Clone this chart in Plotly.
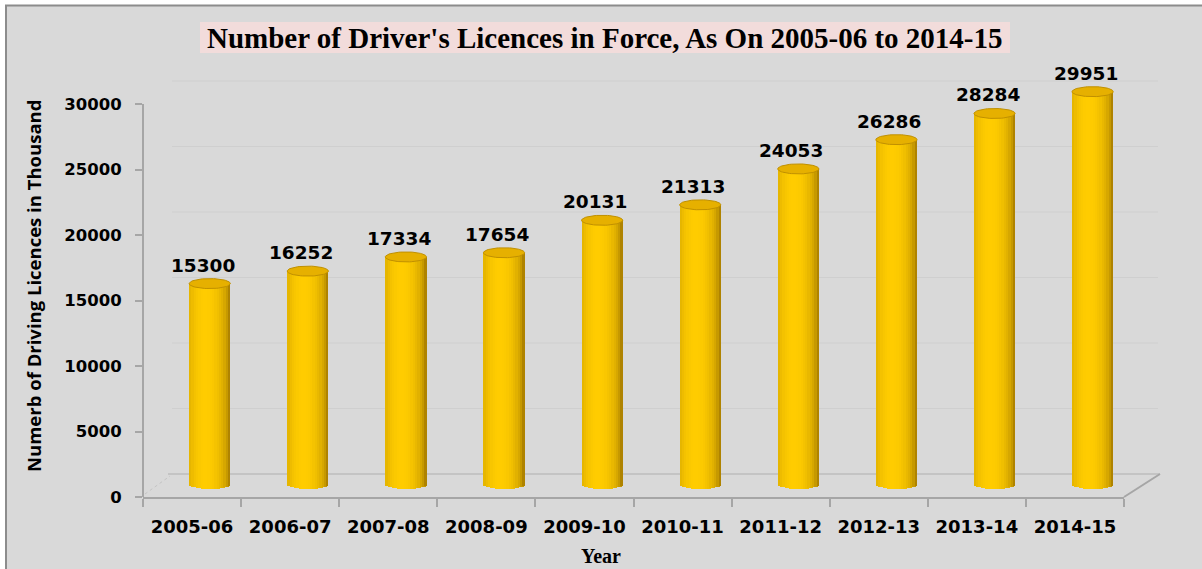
import numpy as np
import plotly.graph_objects as go

# ---------------- data ----------------
years = ["2005-06", "2006-07", "2007-08", "2008-09", "2009-10",
         "2010-11", "2011-12", "2012-13", "2013-14", "2014-15"]
licences = [15300, 16252, 17334, 17654, 20131, 21313, 24053, 26286, 28284, 29951]
y_ticks = [0, 5000, 10000, 15000, 20000, 25000, 30000]
y_tick_text = ["0", "5000", "10000", "15000", "20000", "25000", "30000"]

title_text = "Number of Driver's Licences in Force, As On 2005-06 to 2014-15"
y_title = "Numerb of Driving Licences in Thousand"
x_title = "Year"

# ---------------- layout geometry (pixels) ----------------
FW, FH = 1202, 569
L, R, T, B = 143, 1124, 75, 497
W, H = R - L, B - T
SCALE = 393 / 30000          # px per unit
GRID0 = 474                  # pixel of zero on back wall
BAR0 = 484                   # pixel of zero for cylinder centres


def pxx(p):
    return (p - L) / W


def pxy(p):
    return (B - p) / H


vals = np.array(licences, dtype=float)
xpos = np.arange(len(years))
xc = xpos + 0.18             # depth shift of cylinders
bar_w = 0.42
ry = 5 / SCALE               # ellipse half-height in data units
rx = bar_w / 2

fig = go.Figure()

# cylinder body as shaded vertical strips
N = 18
dark = np.array([140, 100, 0])
bright = np.array([255, 204, 0])


def shade(u):
    k = 1 - ((u + 0.2) / 1.2) ** 2
    k = max(0.0, min(1.0, k)) ** 0.5
    c = dark + (bright - dark) * k
    return "rgb(%d,%d,%d)" % tuple(int(round(v)) for v in c)


sw = bar_w / N
for k in range(N):
    u = -1 + (2 * k + 1) / N
    base = -ry * np.sqrt(max(0.0, 1 - u * u))
    width = sw * (1.6 if k < N - 1 else 1.0)
    fig.add_trace(go.Bar(
        x=xc, y=vals - base, base=base,
        width=width, offset=-bar_w / 2 + k * sw,
        marker=dict(color=shade(u), line=dict(width=0)),
        yaxis="y3", hoverinfo="skip", showlegend=False))

# top ellipses
th = np.linspace(0, 2 * np.pi, 73)
ex, ey = [], []
for xi, v in zip(xc, vals):
    ex += list(xi + rx * np.cos(th)) + [None]
    ey += list(v + ry * np.sin(th)) + [None]
fig.add_trace(go.Scatter(
    x=ex, y=ey, mode="lines", fill="toself",
    fillcolor="#e6b000", line=dict(color="#c09000", width=1),
    yaxis="y3", hoverinfo="skip", showlegend=False))

# ---------------- shapes ----------------
shapes = []
# chart background with border
shapes.append(dict(type="rect", xref="paper", yref="paper",
                   x0=pxx(6), x1=pxx(FW + 20), y0=pxy(5.5), y1=pxy(FH + 20),
                   fillcolor="#d9d9d9", line=dict(color="#8c8c8c", width=2),
                   layer="below"))
# title box
shapes.append(dict(type="rect", xref="paper", yref="paper",
                   x0=pxx(200), x1=pxx(1010), y0=pxy(22), y1=pxy(53),
                   fillcolor="#f2dcdb", line=dict(width=0), layer="below"))
# back-wall gridlines
for t in y_ticks[1:]:
    shapes.append(dict(type="line", xref="paper", yref="y2",
                       x0=pxx(172), x1=pxx(1158), y0=t, y1=t,
                       line=dict(color="#cfcfcf", width=1), layer="below"))
# floor back edge
shapes.append(dict(type="line", xref="paper", yref="y2",
                   x0=pxx(168), x1=pxx(1160), y0=0, y1=0,
                   line=dict(color="#bdbdbd", width=1.5), layer="below"))
# floor right diagonal
shapes.append(dict(type="line", xref="paper", yref="paper",
                   x0=pxx(1124), x1=pxx(1160), y0=pxy(497), y1=pxy(474),
                   line=dict(color="#a6a6a6", width=2), layer="below"))
# floor left diagonal (faint)
shapes.append(dict(type="line", xref="paper", yref="paper",
                   x0=pxx(145), x1=pxx(170), y0=pxy(494), y1=pxy(476),
                   line=dict(color="#c4c4c4", width=1, dash="dot"), layer="below"))
# front vertical axis line
shapes.append(dict(type="line", xref="paper", yref="y",
                   x0=0, x1=0, y0=0, y1=y_ticks[-1],
                   line=dict(color="#a6a6a6", width=2)))

# ---------------- annotations ----------------
ann = []
ann.append(dict(text=title_text, xref="paper", yref="paper",
                x=pxx(605), y=pxy(38), showarrow=False,
                xanchor="center", yanchor="middle",
                font=dict(family="Liberation Serif", size=29, color="black",
                          weight="bold")))
ann.append(dict(text=y_title, xref="paper", yref="paper",
                x=pxx(33), y=pxy(286), showarrow=False, textangle=-90,
                xanchor="center", yanchor="middle",
                font=dict(family="Open Sans", size=18.5, color="black",
                          weight="bold")))
ann.append(dict(text=x_title, xref="paper", yref="paper",
                x=pxx(601), y=pxy(556), showarrow=False,
                xanchor="center", yanchor="middle",
                font=dict(family="Liberation Serif", size=20, color="black",
                          weight="bold")))
for xi, v in zip(xc, licences):
    ann.append(dict(text=str(v), xref="x", yref="y3", x=xi, y=v,
                    showarrow=False, xanchor="center", yanchor="bottom",
                    yshift=6, xshift=-7,
                    font=dict(family="DejaVu Sans", size=18.5, color="black",
                              weight="bold")))

fig.update_layout(
    width=FW, height=FH,
    margin=dict(l=L, r=FW - R, t=T, b=FH - B, pad=0),
    paper_bgcolor="white", plot_bgcolor="rgba(0,0,0,0)",
    barmode="overlay", bargap=0, showlegend=False,
    shapes=shapes, annotations=ann,
    xaxis=dict(range=[-0.5, len(years) - 0.5], tickmode="array",
               tickvals=list(xpos), ticktext=years, ticks="",
               showline=True, linecolor="#a6a6a6", linewidth=2,
               showgrid=False, zeroline=False, ticklabelstandoff=12,
               tickfont=dict(family="DejaVu Sans", size=18, color="black",
                             weight="bold"),
               minor=dict(tickmode="array",
                          tickvals=list(xpos - 0.5) + [len(years) - 0.5],
                          ticks="outside", ticklen=8, tickcolor="#a6a6a6",
                          tickwidth=1.5, showgrid=False)),
    yaxis=dict(range=[0, H / SCALE], tickmode="array", tickvals=y_ticks,
               ticktext=y_tick_text,
               ticks="outside", ticklen=7, tickcolor="#a6a6a6", tickwidth=1.5,
               showline=False, showgrid=False, zeroline=False,
               ticklabelstandoff=10,
               tickfont=dict(family="DejaVu Sans", size=16.5, color="black",
                             weight="bold")),
    yaxis2=dict(range=[-(B - GRID0) / SCALE, (GRID0 - T) / SCALE],
                overlaying="y", visible=False),
    yaxis3=dict(range=[-(B - BAR0) / SCALE, (BAR0 - T) / SCALE],
                overlaying="y", visible=False),
)

fig.write_html("out.html",
               config={"displayModeBar": False},
               post_script="document.body.style.margin='0px';"
                           "document.body.style.overflow='hidden';")
